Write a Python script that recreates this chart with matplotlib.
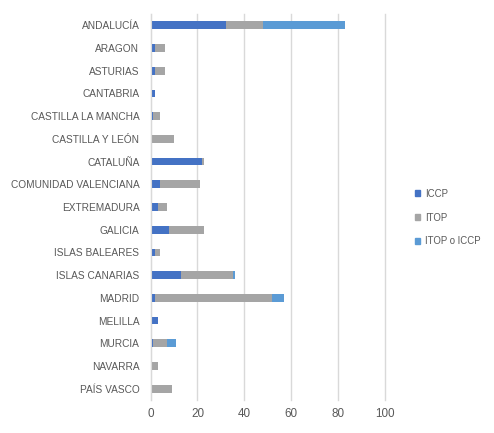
import numpy as np
import matplotlib
matplotlib.use("Agg")
import matplotlib.pyplot as plt
from matplotlib.patches import Patch

plt.rcParams['font.family'] = ['Liberation Sans', 'DejaVu Sans']

regions = ['ANDALUCÍA', 'ARAGON', 'ASTURIAS', 'CANTABRIA', 'CASTILLA LA MANCHA',
           'CASTILLA Y LEÓN', 'CATALUÑA', 'COMUNIDAD VALENCIANA', 'EXTREMADURA',
           'GALICIA', 'ISLAS BALEARES', 'ISLAS CANARIAS', 'MADRID', 'MELILLA',
           'MURCIA', 'NAVARRA', 'PAÍS VASCO']
iccp = [32, 2, 2, 2, 1, 0, 22, 4, 3, 8, 2, 13, 2, 3, 1, 0, 0]
itop = [16, 4, 4, 0, 3, 10, 1, 17, 4, 15, 2, 22, 50, 0, 6, 3, 9]
itop_o_iccp = [35, 0, 0, 0, 0, 0, 0, 0, 0, 0, 0, 1, 5, 0, 4, 0, 0]
xticks = [0, 20, 40, 60, 80, 100]

colors = {'ICCP': '#4472C4', 'ITOP': '#A5A5A5', 'ITOP o ICCP': '#5B9BD5'}
text_c = '#595959'

fig = plt.figure(figsize=(4.94, 4.33), dpi=100)
ax = fig.add_axes([150.5 / 494, 33 / 433, (385 - 150.5) / 494, (419 - 33) / 433])

y = np.arange(len(regions))
h = 0.34
ax.barh(y, iccp, height=h, color=colors['ICCP'], zorder=3)
ax.barh(y, itop, left=iccp, height=h, color=colors['ITOP'], zorder=3)
left2 = np.array(iccp) + np.array(itop)
ax.barh(y, itop_o_iccp, left=left2, height=h, color=colors['ITOP o ICCP'], zorder=3)

ax.set_yticks(y)
ax.set_yticklabels(regions)
ax.set_ylim(len(regions) - 0.5, -0.5)
ax.set_xlim(0, 100)
ax.set_xticks(xticks)
ax.tick_params(axis='both', length=0, colors=text_c, labelsize=7.3)
ax.tick_params(axis='x', labelsize=8.4, pad=6)
ax.tick_params(axis='y', pad=8)
ax.xaxis.grid(True, color='#D9D9D9', linewidth=1, zorder=0)
for gl in ax.get_xgridlines():
    gl.set_clip_on(False)
for s in ['top', 'right', 'bottom']:
    ax.spines[s].set_visible(False)
ax.spines['left'].set_color('#D9D9D9')
ax.spines['left'].set_zorder(4)

handles = [Patch(color=colors[k], label=k) for k in ['ICCP', 'ITOP', 'ITOP o ICCP']]
fig.legend(handles=handles, loc='upper left', bbox_to_anchor=(406 / 494, 1 - 180 / 433),
           frameon=False, fontsize=6.9, labelcolor=text_c, handlelength=0.6,
           handleheight=0.6, handletextpad=0.5, labelspacing=1.45)

fig.savefig('out.png', dpi=100)
